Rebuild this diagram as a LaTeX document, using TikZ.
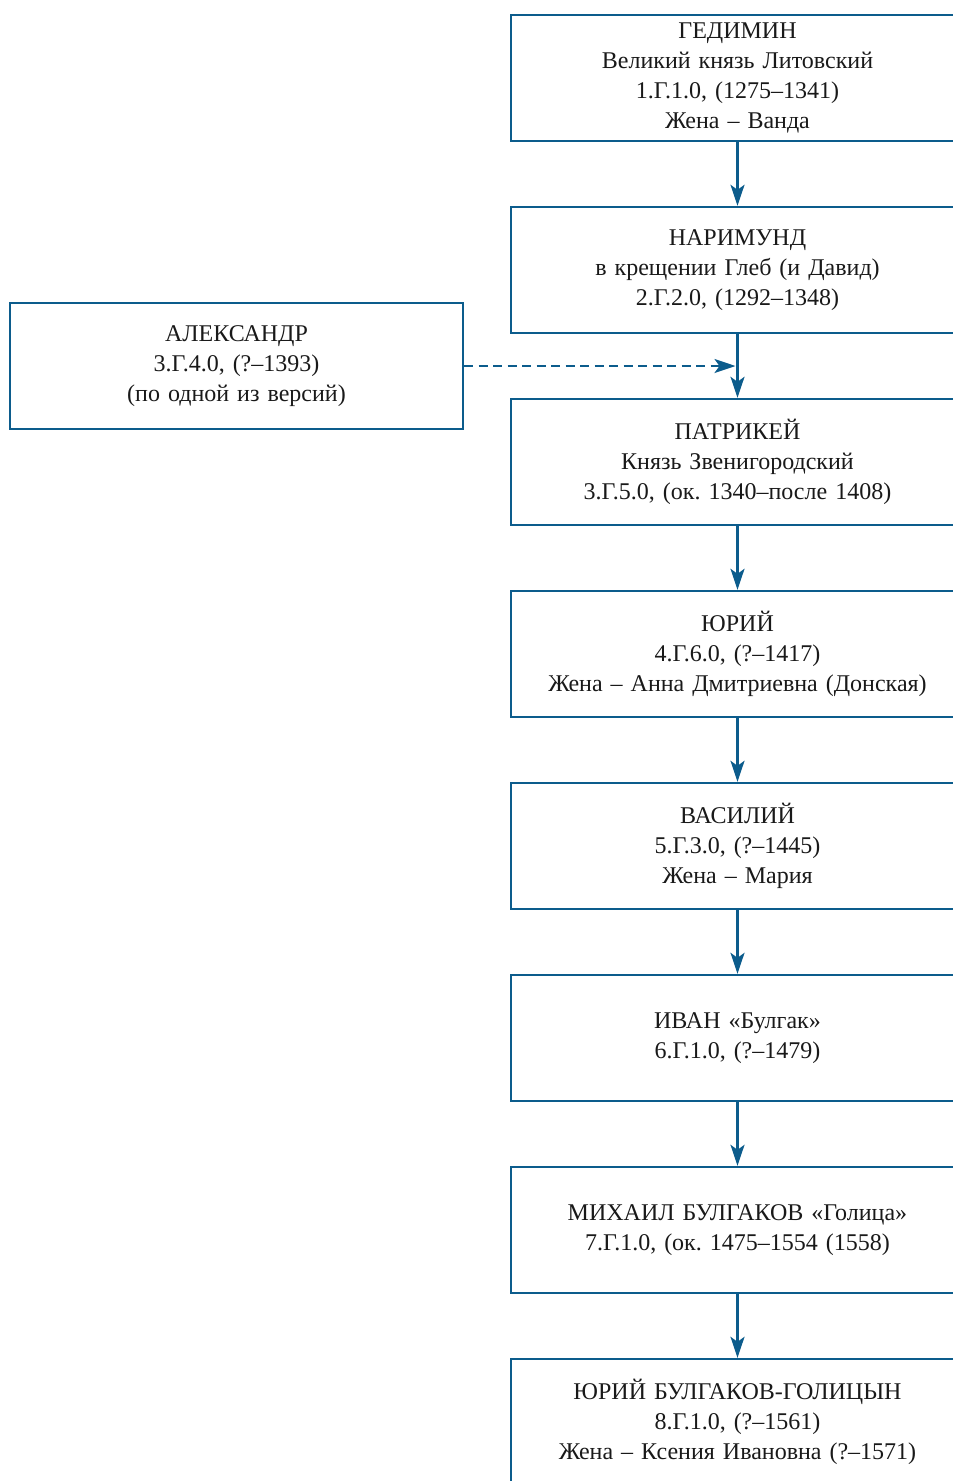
\documentclass[tikz,border=0pt]{standalone}
\usepackage{fontspec}
\setmainfont{Liberation Serif}
\usetikzlibrary{arrows.meta}
\definecolor{lineblue}{RGB}{12,92,140}
\tikzset{
  person/.style={draw=lineblue, line width=2.4pt, minimum width=453pt, minimum height=126pt,
    text width=445pt, align=center, inner sep=0pt, font=\fontsize{24}{29.7}\selectfont\frenchspacing, text=black!90},
  link/.style={draw=lineblue, line width=2.4pt, -{Stealth[length=21pt,width=14pt,inset=5pt]}},
  maybe/.style={link, dash pattern=on 9pt off 5.5pt}
}
\begin{document}
\begin{tikzpicture}[x=1pt,y=-1pt]
\useasboundingbox (0,0) rectangle (953,1481);
\begin{scope}
\clip (0,0) rectangle (953,1481);
\node[person] (g) at (737.5,78) {ГЕДИМИН\\Великий князь Литовский\\1.Г.1.0, (1275–1341)\\Жена – Ванда};
\node[person] (n) at (737.5,270) {НАРИМУНД\\в крещении Глеб (и Давид)\\2.Г.2.0, (1292–1348)};
\node[person] (p) at (737.5,462) {ПАТРИКЕЙ\\Князь Звенигородский\\3.Г.5.0, (ок. 1340–после 1408)};
\node[person] (y) at (737.5,654) {ЮРИЙ\\4.Г.6.0, (?–1417)\\Жена – Анна Дмитриевна (Донская)};
\node[person] (v) at (737.5,846) {ВАСИЛИЙ\\5.Г.3.0, (?–1445)\\Жена – Мария};
\node[person] (i) at (737.5,1038) {ИВАН «Булгак»\\6.Г.1.0, (?–1479)};
\node[person] (m) at (737.5,1230) {МИХАИЛ БУЛГАКОВ «Голица»\\7.Г.1.0, (ок. 1475–1554 (1558)};
\node[person] (yb) at (737.5,1422) {ЮРИЙ БУЛГАКОВ-ГОЛИЦЫН\\8.Г.1.0, (?–1561)\\Жена – Ксения Ивановна (?–1571)};
\node[person] (a) at (236.5,366) {АЛЕКСАНДР\\3.Г.4.0, (?–1393)\\(по одной из версий)};
\coordinate (j) at (737.5,366);
\draw[link] (g) -- (n);
\draw[link] (n) -- (p);
\draw[link] (p) -- (y);
\draw[link] (y) -- (v);
\draw[link] (v) -- (i);
\draw[link] (i) -- (m);
\draw[link] (m) -- (yb);
\draw[maybe, shorten >=2pt] (a) -- (j);
\end{scope}
\end{tikzpicture}
\end{document}
